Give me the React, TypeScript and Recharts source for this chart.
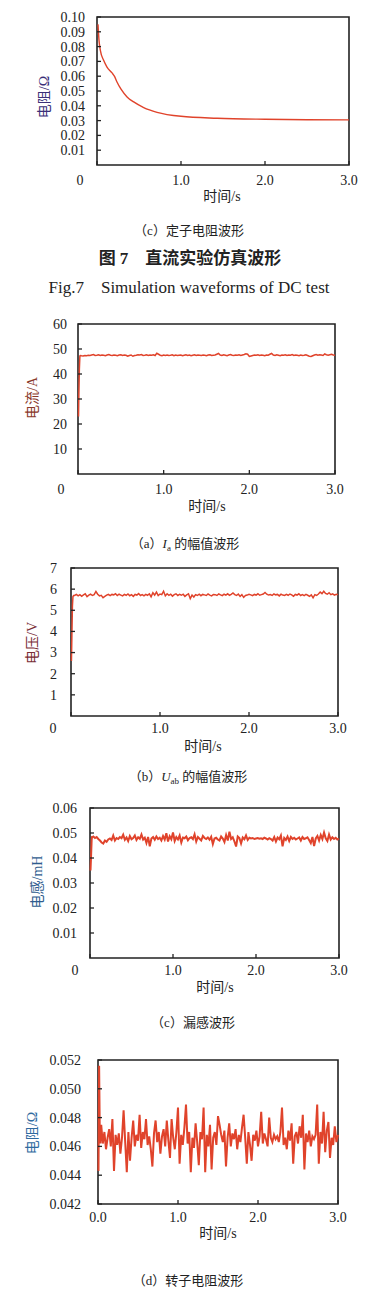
import React from 'react';
import { LineChart, Line, XAxis, YAxis, ReferenceArea } from 'recharts';

const FONT = "'Liberation Serif', 'Times New Roman', 'Noto Sans CJK SC', serif";
const LINE_RED = '#e0432b';
const INK = '#222';

// shared time axis
const timeTicks = [0, 1, 2, 3];
const timeLabels = ['0', '1.0', '2.0', '3.0'];
const rotorTimeLabels = ['0.0', '1.0', '2.0', '3.0'];

// steady-state samples are read every 0.02 s from 0.04 s to 3.00 s
const SAMPLE_START = 0.04;
const SAMPLE_STEP = 0.02;

// Fig.7 (c) stator resistance, Ω
const statorTime = [0.012, 0.024, 0.04, 0.079, 0.119, 0.179, 0.207, 0.238, 0.286, 0.358, 0.437, 0.556, 0.715, 1.0, 1.43, 2.0, 2.5, 3.0];
const statorR = [0.095, 0.0842, 0.0775, 0.0707, 0.0662, 0.0622, 0.06, 0.0561, 0.0512, 0.046, 0.0426, 0.0388, 0.0356, 0.0329, 0.0316, 0.0309, 0.0306, 0.0305];

// (a) Ia amplitude, A
const currentStartT = [0.006, 0.01, 0.016, 0.022, 0.03];
const currentStartV = [23, 32, 42, 47.2, 47.4];
const currentSteady = [
  47.3, 47.2, 47.4, 47.3, 47.5, 47.4, 47.6, 47.8, 47.4, 47.5,
  47.7, 47.4, 47.6, 47.5, 47.3, 47.6, 47.8, 47.5, 47.4, 47.6,
  47.5, 47.3, 47.6, 47.7, 47.4, 47.6, 47.5, 47.1, 47.4, 47.6,
  47.1, 47.4, 47.5, 47.7, 47.6, 47.8, 47.4, 47.5, 47.7, 47.4,
  47.6, 47.5, 47.7, 47.4, 48.3, 47.9, 47.5, 47.3, 47.6, 47.4,
  47.6, 47.4, 47.5, 47.7, 47.3, 47.6, 47.4, 47.5, 47.6, 47.3,
  47.5, 47.7, 47.4, 47.6, 47.3, 47.5, 47.7, 47.4, 47.6, 47.5,
  47.4, 47.6, 47.5, 47.3, 47.6, 47.7, 47.4, 47.5, 47.6, 47.9,
  48.2, 47.6, 47.4, 47.7, 47.5, 47.3, 47.6, 47.8, 47.5, 47.4,
  47.6, 47.5, 47.7, 47.4, 47.6, 47.8, 48.1, 47.9, 47.0, 47.2,
  47.4, 47.6, 47.5, 47.7, 47.4, 47.6, 47.5, 47.3, 47.6, 47.5,
  47.9, 48.2, 47.6, 47.4, 47.7, 47.5, 47.3, 47.6, 47.5, 47.7,
  47.4, 47.6, 47.5, 47.8, 47.4, 47.6, 47.5, 47.3, 47.6, 47.4,
  47.5, 47.7, 47.4, 47.1, 47.0, 47.3, 47.6, 47.8, 47.5, 47.7,
  47.6, 47.4, 48.0, 47.7, 47.5, 47.7, 47.9, 47.6, 47.5,
];

// (b) Uab amplitude, V
const voltageStartT = [0.005, 0.01, 0.016, 0.022, 0.03];
const voltageStartV = [2.6, 3.8, 5.2, 5.65, 5.7];
const voltageSteady = [
  5.70, 5.75, 5.68, 5.74, 5.66, 5.73, 5.78, 5.65, 5.72, 5.76,
  5.70, 5.74, 5.89, 5.76, 5.68, 5.71, 5.60, 5.66, 5.72, 5.75,
  5.69, 5.75, 5.73, 5.78, 5.70, 5.76, 5.72, 5.68, 5.75, 5.71,
  5.77, 5.69, 5.74, 5.66, 5.75, 5.72, 5.79, 5.70, 5.74, 5.68,
  5.75, 5.71, 5.78, 5.64, 5.83, 5.72, 5.86, 5.70, 5.77, 5.74,
  5.90, 5.68, 5.78, 5.71, 5.76, 5.67, 5.74, 5.78, 5.70, 5.75,
  5.71, 5.76, 5.66, 5.73, 5.78, 5.55, 5.72, 5.63, 5.74, 5.70,
  5.76, 5.69, 5.75, 5.73, 5.70, 5.77, 5.72, 5.68, 5.75, 5.74,
  5.70, 5.77, 5.73, 5.69, 5.76, 5.72, 5.78, 5.71, 5.75, 5.82,
  5.74, 5.70, 5.77, 5.66, 5.74, 5.61, 5.70, 5.72, 5.76, 5.73,
  5.69, 5.75, 5.72, 5.78, 5.71, 5.74, 5.77, 5.84, 5.76, 5.72,
  5.74, 5.70, 5.77, 5.73, 5.75, 5.68, 5.76, 5.72, 5.70, 5.75,
  5.71, 5.77, 5.73, 5.66, 5.75, 5.72, 5.78, 5.70, 5.74, 5.69,
  5.75, 5.71, 5.66, 5.73, 5.59, 5.74, 5.70, 5.77, 5.86, 5.79,
  5.90, 5.80, 5.76, 5.83, 5.74, 5.78, 5.72, 5.76, 5.74,
];

// (c) leakage inductance, mH
const inductStartT = [0.006, 0.012, 0.02, 0.026, 0.03];
const inductStartV = [0.035, 0.04, 0.0472, 0.0488, 0.0484];
const inductSteady = [
  0.0486, 0.0480, 0.0484, 0.0476, 0.0470, 0.0462, 0.0458, 0.0470, 0.0465, 0.0474,
  0.0478, 0.0472, 0.0490, 0.0470, 0.0480, 0.0476, 0.0484, 0.0479, 0.0493, 0.0473,
  0.0482, 0.0468, 0.0488, 0.0475, 0.0480, 0.0490, 0.0472, 0.0483, 0.0477, 0.0494,
  0.0474, 0.0481, 0.0460, 0.0484, 0.0447, 0.0478, 0.0484, 0.0473, 0.0486, 0.0476,
  0.0481, 0.0470, 0.0488, 0.0474, 0.0499, 0.0466, 0.0487, 0.0475, 0.0502, 0.0468,
  0.0484, 0.0474, 0.0490, 0.0462, 0.0482, 0.0479, 0.0486, 0.0471, 0.0480, 0.0483,
  0.0476, 0.0495, 0.0466, 0.0484, 0.0477, 0.0470, 0.0488, 0.0480, 0.0476, 0.0482,
  0.0473, 0.0485, 0.0456, 0.0478, 0.0481, 0.0474, 0.0470, 0.0486, 0.0478, 0.0464,
  0.0492, 0.0470, 0.0505, 0.0476, 0.0483, 0.0466, 0.0446, 0.0486, 0.0480, 0.0458,
  0.0482, 0.0475, 0.0490, 0.0472, 0.0481, 0.0478, 0.0480, 0.0476, 0.0478, 0.0480,
  0.0477, 0.0479, 0.0476, 0.0481, 0.0478, 0.0474, 0.0479, 0.0476, 0.0470, 0.0484,
  0.0466, 0.0482, 0.0475, 0.0490, 0.0447, 0.0480, 0.0472, 0.0486, 0.0468, 0.0484,
  0.0476, 0.0481, 0.0474, 0.0478, 0.0482, 0.0470, 0.0484, 0.0476, 0.0479, 0.0483,
  0.0472, 0.0460, 0.0484, 0.0448, 0.0478, 0.0488, 0.0470, 0.0492, 0.0476, 0.0502,
  0.0479, 0.0468, 0.0494, 0.0474, 0.0483, 0.0476, 0.0481, 0.0474, 0.0478,
];

// (d) rotor resistance, Ω
const rotorStartT = [0.006, 0.014, 0.022, 0.03];
const rotorStartV = [0.0443, 0.0516, 0.047, 0.0462];
const rotorSteady = [
  0.0475, 0.0462, 0.0470, 0.0458, 0.0466, 0.0472, 0.0460, 0.0479, 0.0443, 0.0468,
  0.0461, 0.0469, 0.0455, 0.0466, 0.0485, 0.0463, 0.0442, 0.0470, 0.0450, 0.0466,
  0.0478, 0.0460, 0.0468, 0.0464, 0.0482, 0.0459, 0.0470, 0.0465, 0.0479, 0.0461,
  0.0467, 0.0458, 0.0446, 0.0469, 0.0478, 0.0463, 0.0470, 0.0455, 0.0467, 0.0472,
  0.0460, 0.0478, 0.0464, 0.0452, 0.0479, 0.0466, 0.0458, 0.0470, 0.0487, 0.0448,
  0.0468, 0.0461, 0.0473, 0.0489, 0.0462, 0.0470, 0.0442, 0.0466, 0.0459, 0.0476,
  0.0463, 0.0447, 0.0470, 0.0465, 0.0487, 0.0442, 0.0468, 0.0460, 0.0475, 0.0444,
  0.0466, 0.0470, 0.0461, 0.0481, 0.0475, 0.0468, 0.0463, 0.0471, 0.0446, 0.0466,
  0.0476, 0.0460, 0.0469, 0.0465, 0.0472, 0.0458, 0.0468, 0.0463, 0.0473, 0.0482,
  0.0466, 0.0448, 0.0470, 0.0461, 0.0450, 0.0468, 0.0464, 0.0471, 0.0460, 0.0467,
  0.0484, 0.0462, 0.0469, 0.0465, 0.0460, 0.0480, 0.0466, 0.0463, 0.0468, 0.0465,
  0.0467, 0.0463, 0.0470, 0.0487, 0.0461, 0.0466, 0.0458, 0.0471, 0.0464, 0.0476,
  0.0448, 0.0467, 0.0470, 0.0462, 0.0474, 0.0466, 0.0482, 0.0444, 0.0469, 0.0463,
  0.0471, 0.0460, 0.0467, 0.0465, 0.0468, 0.0489, 0.0448, 0.0470, 0.0462, 0.0484,
  0.0456, 0.0471, 0.0477, 0.0452, 0.0466, 0.0461, 0.0474, 0.0463, 0.0468,
];

type Row = { t: number; v: number };

function buildRows(startT: number[], startV: number[], steady: number[]): Row[] {
  const head = startT.map((t, i) => ({ t, v: startV[i] }));
  const tail = steady.map((v, i) => ({ t: +(SAMPLE_START + SAMPLE_STEP * i).toFixed(3), v }));
  return head.concat(tail);
}

const statorRows = statorTime.map((t, i) => ({ t, v: statorR[i] }));
const currentRows = buildRows(currentStartT, currentStartV, currentSteady);
const voltageRows = buildRows(voltageStartT, voltageStartV, voltageSteady);
const inductRows = buildRows(inductStartT, inductStartV, inductSteady);
const rotorRows = buildRows(rotorStartT, rotorStartV, rotorSteady);

interface PanelProps {
  top: number;
  box: [number, number, number, number]; // left, top, right, bottom (page px)
  yDomain: [number, number];
  yTicks: number[];
  yLabels: string[];
  xLabels: string[];
  zeroShift: number;
  labelGap: number;
  xLabelDy: number;
  data: Row[];
  curve?: 'linear' | 'monotone';
  strokeWidth: number;
}

function Panel({ top, box, yDomain, yTicks, yLabels, xLabels, zeroShift, labelGap, xLabelDy, data, curve = 'linear', strokeWidth }: PanelProps) {
  const [l, t, r, b] = box;
  const height = b + 32 - top;
  const plotBottom = b - top;

  const yTick = (p: any) => {
    const idx = yTicks.indexOf(p.payload.value);
    return (
      <g>
        <line x1={l} x2={l + 4} y1={p.y} y2={p.y} stroke={INK} strokeWidth={1.3} />
        <text x={l - labelGap} y={p.y} dy="0.35em" textAnchor="end" fontSize={14} fontFamily={FONT} fill={INK}>
          {yLabels[idx]}
        </text>
      </g>
    );
  };

  const xTick = (p: any) => {
    const idx = timeTicks.indexOf(p.payload.value);
    const shift = idx === 0 ? zeroShift : 0;
    return (
      <g>
        <line x1={p.x} x2={p.x} y1={plotBottom} y2={plotBottom - 4} stroke={INK} strokeWidth={1.3} />
        <text x={p.x + shift} y={plotBottom + xLabelDy} dy="0.35em" textAnchor="middle" fontSize={14} fontFamily={FONT} fill={INK}>
          {xLabels[idx]}
        </text>
      </g>
    );
  };

  return (
    <div style={{ position: 'absolute', left: 0, top }}>
      <LineChart
        width={382}
        height={height}
        data={data}
        margin={{ top: t - top, right: 382 - r, left: 0, bottom: 0 }}
      >
        <XAxis
          type="number"
          dataKey="t"
          domain={[0, 3]}
          ticks={timeTicks}
          interval={0}
          axisLine={false}
          tickLine={false}
          height={height - plotBottom}
          tick={xTick}
        />
        <YAxis
          type="number"
          domain={yDomain}
          ticks={yTicks}
          interval={0}
          axisLine={false}
          tickLine={false}
          width={l}
          tick={yTick}
          allowDataOverflow
        />
        <Line
          type={curve}
          dataKey="v"
          stroke={LINE_RED}
          strokeWidth={strokeWidth}
          dot={false}
          isAnimationActive={false}
        />
        <ReferenceArea x1={0} x2={3} y1={yDomain[0]} y2={yDomain[1]} fill="none" stroke={INK} strokeWidth={1.6} />
      </LineChart>
    </div>
  );
}

function Txt({ x, y, size = 14, bold, color = INK, rotate, children }: any) {
  return (
    <div
      style={{
        position: 'absolute',
        left: x,
        top: y,
        transform: `translate(-50%, -50%)${rotate ? ' rotate(-90deg)' : ''}`,
        whiteSpace: 'pre',
        fontSize: size,
        fontFamily: FONT,
        fontWeight: bold ? 700 : 400,
        color,
        lineHeight: 1,
      }}
    >
      {children}
    </div>
  );
}

export default function App() {
  return (
    <div style={{ position: 'absolute', left: 0, top: 0, width: 382, height: 1297, background: '#fff', overflow: 'hidden' }}>
      {/* Fig.7 (c) */}
      <Panel
        top={0}
        box={[97, 17, 349, 165]}
        yDomain={[0, 0.1]}
        yTicks={[0.01, 0.02, 0.03, 0.04, 0.05, 0.06, 0.07, 0.08, 0.09, 0.1]}
        yLabels={['0.01', '0.02', '0.03', '0.04', '0.05', '0.06', '0.07', '0.08', '0.09', '0.10']}
        xLabels={timeLabels}
        zeroShift={-17}
        labelGap={12}
        xLabelDy={15}
        data={statorRows}
        curve="monotone"
        strokeWidth={1.4}
      />
      <Txt x={45} y={97} rotate color="#3a2f78">电阻/Ω</Txt>
      <Txt x={222} y={197}>时间/s</Txt>
      <Txt x={189} y={230} size={13}>（c）定子电阻波形</Txt>
      <Txt x={190} y={258} size={17} bold>{'图 7\u3000直流实验仿真波形'}</Txt>
      <Txt x={189} y={287} size={17}>{'Fig.7\u2003Simulation waveforms of DC test'}</Txt>

      {/* (a) Ia */}
      <Panel
        top={300}
        box={[78, 324, 335, 474]}
        yDomain={[0, 60]}
        yTicks={[10, 20, 30, 40, 50, 60]}
        yLabels={['10', '20', '30', '40', '50', '60']}
        xLabels={timeLabels}
        zeroShift={-17}
        labelGap={11}
        xLabelDy={15}
        data={currentRows}
        strokeWidth={1.5}
      />
      <Txt x={33} y={398} rotate color="#8a3a2c">电流/A</Txt>
      <Txt x={207} y={507}>时间/s</Txt>
      <Txt x={185} y={545} size={13}>
        （a）<i>I</i><sub style={{ fontSize: 9 }}>a</sub> 的幅值波形
      </Txt>

      {/* (b) Uab */}
      <Panel
        top={555}
        box={[71, 568, 338, 716]}
        yDomain={[0, 7]}
        yTicks={[1, 2, 3, 4, 5, 6, 7]}
        yLabels={['1', '2', '3', '4', '5', '6', '7']}
        xLabels={timeLabels}
        zeroShift={-18}
        labelGap={14}
        xLabelDy={12}
        data={voltageRows}
        strokeWidth={1.5}
      />
      <Txt x={33} y={643} rotate color="#7a2e36">电压/V</Txt>
      <Txt x={203} y={747}>时间/s</Txt>
      <Txt x={188} y={778} size={13}>
        （b）<i>U</i><sub style={{ fontSize: 9 }}>ab</sub> 的幅值波形
      </Txt>

      {/* (c) leakage inductance */}
      <Panel
        top={785}
        box={[90, 808, 339, 958]}
        yDomain={[0, 0.06]}
        yTicks={[0.01, 0.02, 0.03, 0.04, 0.05, 0.06]}
        yLabels={['0.01', '0.02', '0.03', '0.04', '0.05', '0.06']}
        xLabels={timeLabels}
        zeroShift={-15}
        labelGap={13}
        xLabelDy={12}
        data={inductRows}
        strokeWidth={2}
      />
      <Txt x={38} y={882} rotate color="#2f5c8e">电感/mH</Txt>
      <Txt x={215} y={988}>时间/s</Txt>
      <Txt x={193} y={1022} size={13}>（c）漏感波形</Txt>

      {/* (d) rotor resistance */}
      <Panel
        top={1035}
        box={[98, 1060, 338, 1204]}
        yDomain={[0.042, 0.052]}
        yTicks={[0.042, 0.044, 0.046, 0.048, 0.05, 0.052]}
        yLabels={['0.042', '0.044', '0.046', '0.048', '0.050', '0.052']}
        xLabels={rotorTimeLabels}
        zeroShift={0}
        labelGap={17}
        xLabelDy={13}
        data={rotorRows}
        strokeWidth={2}
      />
      <Txt x={33} y={1133} rotate color="#2f6aa0">电阻/Ω</Txt>
      <Txt x={218} y={1234}>时间/s</Txt>
      <Txt x={188} y={1280} size={13}>（d）转子电阻波形</Txt>
    </div>
  );
}
